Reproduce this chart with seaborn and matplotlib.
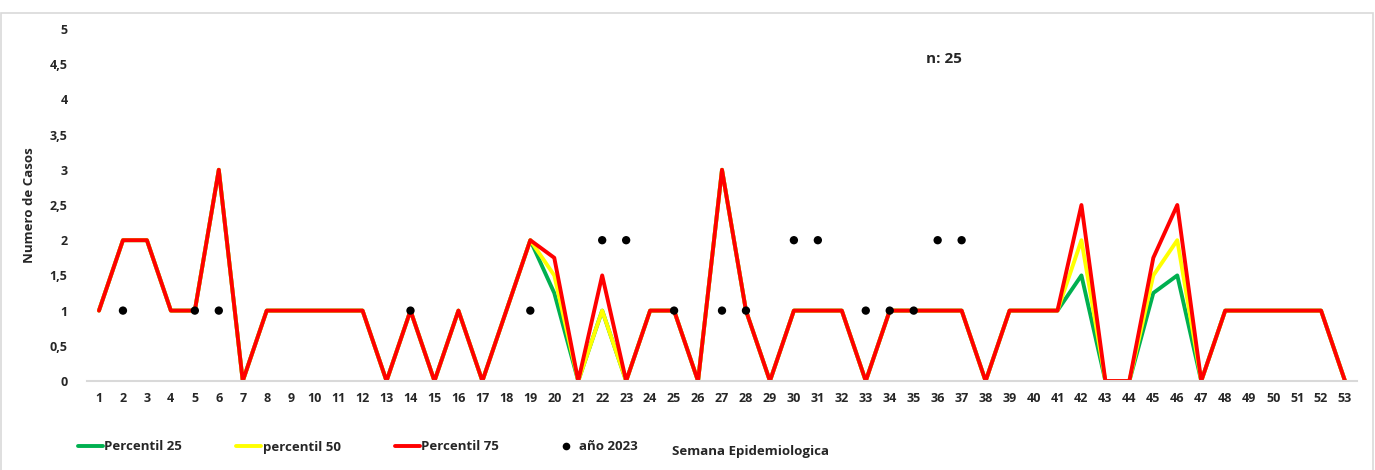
import numpy as np
import pandas as pd
import matplotlib
matplotlib.use("Agg")
import matplotlib.pyplot as plt
from matplotlib.lines import Line2D
from matplotlib.patches import Rectangle
import seaborn as sns

weeks = list(range(1, 54))
p25 = [1, 2, 2, 1, 1, 3, 0, 1, 1, 1,
       1, 1, 0, 1, 0, 1, 0, 1, 2, 1.25,
       0, 1, 0, 1, 1, 0, 3, 1, 0, 1,
       1, 1, 0, 1, 1, 1, 1, 0, 1, 1,
       1, 1.5, 0, 0, 1.25, 1.5, 0, 1, 1, 1,
       1, 1, 0]
p50 = [1, 2, 2, 1, 1, 3, 0, 1, 1, 1,
       1, 1, 0, 1, 0, 1, 0, 1, 2, 1.5,
       0, 1, 0, 1, 1, 0, 3, 1, 0, 1,
       1, 1, 0, 1, 1, 1, 1, 0, 1, 1,
       1, 2, 0, 0, 1.5, 2, 0, 1, 1, 1,
       1, 1, 0]
p75 = [1, 2, 2, 1, 1, 3, 0, 1, 1, 1,
       1, 1, 0, 1, 0, 1, 0, 1, 2, 1.75,
       0, 1.5, 0, 1, 1, 0, 3, 1, 0, 1,
       1, 1, 0, 1, 1, 1, 1, 0, 1, 1,
       1, 2.5, 0, 0, 1.75, 2.5, 0, 1, 1, 1,
       1, 1, 0]
dot_weeks = [2, 5, 6, 14, 19, 22, 23, 25, 27, 28, 30, 31, 33, 34, 35, 36, 37]
dot_vals = [1, 1, 1, 1, 1, 2, 2, 1, 1, 1, 2, 2, 1, 1, 1, 2, 2]
y_ticks = [0, 0.5, 1, 1.5, 2, 2.5, 3, 3.5, 4, 4.5, 5]
y_labels = ["0", "0,5", "1", "1,5", "2", "2,5", "3", "3,5", "4", "4,5", "5"]
labels = ["Percentil 25", "percentil 50", "Percentil 75", "año 2023"]
colors = ["#00B050", "#FFFF00", "#FF0000", "#000000"]

sns.set_theme(style="white")
plt.rcParams["font.family"] = ["Open Sans", "DejaVu Sans"]
plt.rcParams["font.weight"] = "bold"

fig = plt.figure(figsize=(13.75, 4.7), dpi=100)
ax = fig.add_axes([87 / 1375, (470 - 381) / 470, 1270 / 1375, 352 / 470])

df = pd.DataFrame({"week": weeks, "p25": p25, "p50": p50, "p75": p75})
dots = pd.DataFrame({"week": dot_weeks, "val": dot_vals})

sns.lineplot(data=df, x="week", y="p25", color=colors[0], lw=2.8, ax=ax, legend=False)
sns.lineplot(data=df, x="week", y="p50", color=colors[1], lw=2.8, ax=ax, legend=False)
sns.lineplot(data=df, x="week", y="p75", color=colors[2], lw=2.8, ax=ax, legend=False)
sns.scatterplot(data=dots, x="week", y="val", color=colors[3], s=36, edgecolor="none",
                ax=ax, legend=False, zorder=5)

ax.set_xlim(0.5, 53.5)
ax.set_ylim(0, 5)
ax.set_xticks(weeks)
ax.set_xticklabels([str(w) for w in weeks], fontsize=9, fontweight="bold")
ax.set_yticks(y_ticks)
ax.set_yticklabels(y_labels, fontsize=9, fontweight="bold")
ax.tick_params(axis="x", length=0, pad=8)
ax.tick_params(axis="y", length=0, pad=14)
for s in ["top", "right", "left"]:
    ax.spines[s].set_visible(False)
ax.spines["bottom"].set_color("#D9D9D9")
ax.spines["bottom"].set_linewidth(1.5)
ax.set_xlabel("")
ax.set_ylabel("Numero de Casos", fontsize=9.5, fontweight="bold")
ax.yaxis.set_label_coords(-0.040, 0.5)

ax.text(0.675, 0.915, "n: 25", transform=ax.transAxes, fontsize=11,
        fontweight="bold", ha="center", va="center")

fig.text(751 / 1375, (470 - 451) / 470, "Semana Epidemiologica", fontsize=9.5,
         fontweight="bold", ha="center", va="center")

fig.text(0.47, 1.0 + 6 / 470, "Canal endemico epidemiologico, hepatitis A por semana epidemiologica",
         fontsize=14, fontweight="bold", ha="center", va="baseline")

fig.add_artist(Rectangle((1 / 1375, -0.01), 1372 / 1375, (470 - 13) / 470 + 0.01,
                         transform=fig.transFigure, fill=False, edgecolor="#D9D9D9", lw=1.2))

handles = [Line2D([0], [0], color=colors[0], lw=2.8),
           Line2D([0], [0], color=colors[1], lw=2.8),
           Line2D([0], [0], color=colors[2], lw=2.8),
           Line2D([0], [0], marker="o", color="none", markerfacecolor="black",
                  markeredgecolor="none", markersize=5.5)]
leg = fig.legend(handles, labels, loc="center left", ncol=4,
                 bbox_to_anchor=(66 / 1375, (470 - 447) / 470), frameon=False,
                 handlelength=1.9, handletextpad=0.1, columnspacing=4.1,
                 prop={"weight": "bold", "size": 9.5})

fig.savefig("out.png", dpi=100)
